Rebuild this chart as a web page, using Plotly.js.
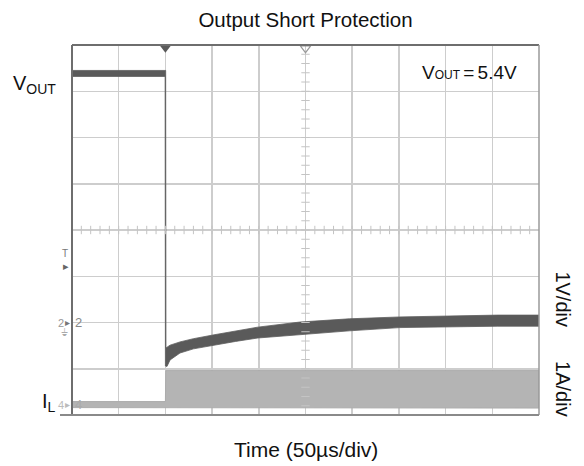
<!DOCTYPE html>
<html>
<head>
<meta charset="utf-8">
<script src="https://cdn.plot.ly/plotly-3.0.1.min.js"></script>
<style>html,body{margin:0;padding:0;background:#fff;}#chart{width:584px;height:466px;}</style>
</head>
<body>
<div id="chart"></div>
<script>
// ---- data (time in µs, trigger at 0; VOUT in V, IL in A) ----
const vUpperTime = [-100, 0.3, 0.6, 3, 5, 15.6, 30, 51, 75, 99, 144, 197, 251, 304, 356, 400];
const vUpper     = [5.45, 5.45, -0.55, -0.52, -0.49, -0.42, -0.35, -0.27, -0.18, -0.10, 0.01, 0.08, 0.12, 0.14, 0.16, 0.16];
const vLowerTime = [-100, -0.3, 0, 1.7, 5, 15.6, 30, 51, 75, 99, 144, 197, 251, 304, 356, 400];
const vLower     = [5.32, 5.32, -0.94, -0.95, -0.81, -0.66, -0.57, -0.49, -0.41, -0.335, -0.27, -0.18, -0.11, -0.10, -0.08, -0.08];

const iUpperTime = [-100, 0, 0.4, 400];
const iUpper     = [0.07, 0.07, 0.74, 0.74];
const iLowerTime = [-100, 400];
const iLower     = [-0.06, -0.07];

// channel offsets (divisions) and scales (1V/div, 1A/div)
const VOFF = 2.0, IOFF = 0.22;
const xRange = [-100, 400], yRange = [0, 8];
const xDiv = 50, yDiv = 1;

function band(tu, u, tl, l, off) {
  const xs = tu.concat(tl.slice().reverse());
  const ys = u.map(v => v + off).concat(l.slice().reverse().map(v => v + off));
  xs.push(tu[0]); ys.push(u[0] + off);
  return {x: xs, y: ys};
}
const vb = band(vUpperTime, vUpper, vLowerTime, vLower, VOFF);
const ib = band(iUpperTime, iUpper, iLowerTime, iLower, IOFF);

// minor ticks on the centre lines
const mx = [], my = [], vx = [], vy = [];
for (let t = xRange[0] + xDiv / 5; t < xRange[1]; t += xDiv / 5) { mx.push(t); my.push(4); }
for (let d = yRange[0] + yDiv / 5; d < yRange[1] - 0.01; d += yDiv / 5) { vx.push(150); vy.push(d); }

const traces = [
  {x: ib.x, y: ib.y, type: 'scatter', mode: 'lines', fill: 'toself',
   fillcolor: '#b4b4b4', line: {color: '#acacac', width: 1}, hoverinfo: 'skip'},
  {x: vb.x, y: vb.y, type: 'scatter', mode: 'lines', fill: 'toself',
   fillcolor: '#5a5a5a', line: {color: '#5e5e5e', width: 0.8}, hoverinfo: 'skip'},
  {x: mx, y: my, type: 'scatter', mode: 'markers', hoverinfo: 'skip',
   marker: {symbol: 'line-ns', size: 6, line: {color: '#c4c4c4', width: 1}}},
  {x: vx, y: vy, type: 'scatter', mode: 'markers', hoverinfo: 'skip',
   marker: {symbol: 'line-ew', size: 6, line: {color: '#c4c4c4', width: 1}}},
  {x: [0], y: [7.93], type: 'scatter', mode: 'markers', cliponaxis: false, hoverinfo: 'skip',
   marker: {symbol: 'triangle-down', size: 9, color: '#5a5a5a'}},
  {x: [150], y: [7.93], type: 'scatter', mode: 'markers', cliponaxis: false, hoverinfo: 'skip',
   marker: {symbol: 'triangle-down-open', size: 9, color: '#999', line: {width: 1.2}}}
];

const F = 'Liberation Sans, Arial, Helvetica, sans-serif';
const layout = {
  width: 584, height: 466,
  margin: {l: 72, r: 45, t: 45, b: 51},
  paper_bgcolor: '#fff', plot_bgcolor: '#fff',
  showlegend: false,
  font: {family: F, color: '#111'},
  title: {text: 'Output Short Protection', font: {family: F, size: 20.5, color: '#111'},
          x: 0.5, xref: 'paper', xanchor: 'center', y: 1 - 20 / 466, yref: 'container', yanchor: 'middle'},
  xaxis: {range: xRange, dtick: xDiv, tick0: -100, showgrid: true, gridcolor: '#cdcdcd', gridwidth: 1.5,
          zeroline: false, showline: false, showticklabels: false, ticks: '', fixedrange: true},
  yaxis: {range: yRange, dtick: yDiv, tick0: 0, showgrid: true, gridcolor: '#cdcdcd', gridwidth: 1.5,
          zeroline: false, showline: false, showticklabels: false, ticks: '', fixedrange: true},
  shapes: [
    {type: 'line', xref: 'paper', yref: 'paper', x0: 0, x1: 1, y0: 1, y1: 1, line: {color: '#6e6e6e', width: 2}, layer: 'above'},
    {type: 'line', xref: 'paper', yref: 'paper', x0: 0, x1: 0, y0: 0, y1: 1, line: {color: '#6e6e6e', width: 2}, layer: 'above'},
    {type: 'line', xref: 'paper', yref: 'paper', x0: 1, x1: 1, y0: 0, y1: 1, line: {color: '#9a9a9a', width: 1.5}, layer: 'above'},
    {type: 'line', xref: 'paper', yref: 'paper', x0: -12 / 467, x1: 1, y0: 0, y1: 0, line: {color: '#8a8a8a', width: 2}, layer: 'above'}
  ],
  annotations: [
    {text: 'Time (50µs/div)', xref: 'paper', yref: 'paper', x: 0.5, y: -35 / 370, xanchor: 'center', yanchor: 'middle',
     showarrow: false, font: {family: F, size: 21, color: '#111'}},
    {text: 'V<sub>OUT</sub>', xref: 'paper', yref: 'y', x: -14 / 467, y: 7.15, xanchor: 'right', yanchor: 'middle',
     showarrow: false, font: {family: F, size: 20, color: '#111'}},
    {text: 'I<sub>L</sub>', xref: 'paper', yref: 'y', x: -14 / 467, y: 0.28, xanchor: 'right', yanchor: 'middle',
     showarrow: false, font: {family: F, size: 20, color: '#111'}},
    {text: '<span style="font-size:19px">V</span>OUT <span style="font-size:19px">=</span> <span style="font-size:19px">5.4V</span>',
     xref: 'x', yref: 'y', x: 326, y: 7.4, xanchor: 'center', yanchor: 'middle',
     showarrow: false, font: {family: F, size: 12, color: '#111'}},
    {text: '1V/div', xref: 'paper', yref: 'y', x: 1 + 24 / 467, y: 2.5, xanchor: 'center', yanchor: 'middle',
     textangle: 90, showarrow: false, font: {family: F, size: 20, color: '#111'}},
    {text: '1A/div', xref: 'paper', yref: 'y', x: 1 + 24 / 467, y: 0.56, xanchor: 'center', yanchor: 'middle',
     textangle: 90, showarrow: false, font: {family: F, size: 20, color: '#111'}},
    // channel / trigger markers on the left edge
    {text: 'T', xref: 'paper', yref: 'y', x: -7 / 467, y: 3.5, xanchor: 'center', yanchor: 'middle',
     showarrow: false, font: {family: F, size: 10, color: '#777'}},
    {text: '▸', xref: 'paper', yref: 'y', x: -1 / 467, y: 3.22, xanchor: 'right', yanchor: 'middle',
     showarrow: false, font: {family: F, size: 11, color: '#666'}},
    {text: '2', xref: 'paper', yref: 'y', x: -6 / 467, y: 2.0, xanchor: 'right', yanchor: 'middle',
     showarrow: false, font: {family: F, size: 11, color: '#999'}},
    {text: '▸', xref: 'paper', yref: 'y', x: 0, y: 2.0, xanchor: 'right', yanchor: 'middle',
     showarrow: false, font: {family: F, size: 10, color: '#777'}},
    {text: '2', xref: 'paper', yref: 'y', x: 1 / 467, y: 2.0, xanchor: 'left', yanchor: 'middle',
     showarrow: false, font: {family: F, size: 13, color: '#888'}},
    {text: '⏚', xref: 'paper', yref: 'y', x: -8 / 467, y: 1.78, xanchor: 'center', yanchor: 'middle',
     showarrow: false, font: {family: 'DejaVu Sans', size: 10, color: '#aaa'}},
    {text: '4', xref: 'paper', yref: 'y', x: -6 / 467, y: IOFF, xanchor: 'right', yanchor: 'middle',
     showarrow: false, font: {family: F, size: 11, color: '#bbb'}},
    {text: '▸', xref: 'paper', yref: 'y', x: 0, y: IOFF, xanchor: 'right', yanchor: 'middle',
     showarrow: false, font: {family: F, size: 10, color: '#bbb'}},
    {text: '4', xref: 'paper', yref: 'y', x: 1 / 467, y: IOFF, xanchor: 'left', yanchor: 'middle',
     showarrow: false, font: {family: F, size: 13, color: '#aaa'}}
  ]
};

Plotly.newPlot('chart', traces, layout, {staticPlot: true, displayModeBar: false});
</script>
</body>
</html>
